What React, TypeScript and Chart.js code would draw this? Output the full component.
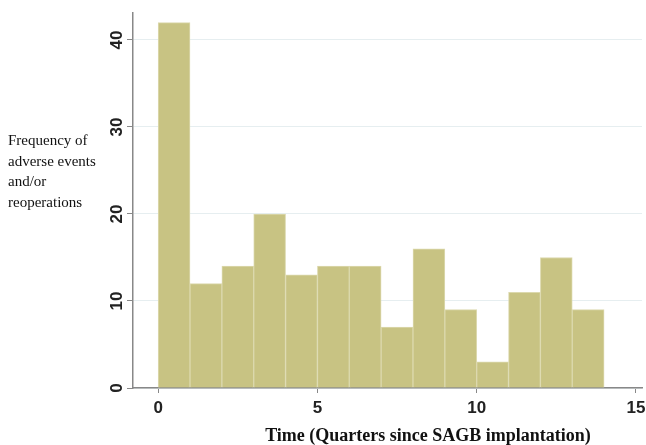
import React, { useEffect, useRef } from "react";
import { Chart, registerables } from "chart.js";

Chart.register(...registerables);

const binStarts = [0, 1, 2, 3, 4, 5, 6, 7, 8, 9, 10, 11, 12, 13];
const frequencies = [42, 12, 14, 20, 13, 14, 14, 7, 16, 9, 3, 11, 15, 9];
const xTicks = [0, 5, 10, 15];
const yTicks = [0, 10, 20, 30, 40];
const yTitleLines = ["Frequency of", "adverse events", "and/or", "reoperations"];
const xTitle = "Time (Quarters since SAGB implantation)";

const textPlugin = {
  id: "customText",
  afterDraw(chart: any) {
    const ctx = chart.ctx;
    const yScale = chart.scales.y;
    ctx.save();
    // rotated y tick labels
    ctx.fillStyle = "#222";
    ctx.font = "bold 17px 'Liberation Sans', Arial, sans-serif";
    ctx.textAlign = "center";
    ctx.textBaseline = "middle";
    yTicks.forEach((v) => {
      const py = yScale.getPixelForValue(v);
      ctx.save();
      ctx.translate(117, py);
      ctx.rotate(-Math.PI / 2);
      ctx.fillText(String(v), 0, 0);
      ctx.restore();
    });
    // y title (horizontal, multi-line)
    ctx.font = "15px 'Liberation Serif', 'Times New Roman', serif";
    ctx.textAlign = "left";
    ctx.textBaseline = "alphabetic";
    ctx.fillStyle = "#111";
    yTitleLines.forEach((line, i) => {
      ctx.fillText(line, 8, 145 + i * 20.5);
    });
    // x title
    ctx.font = "bold 18px 'Liberation Serif', 'Times New Roman', serif";
    ctx.textAlign = "center";
    ctx.textBaseline = "middle";
    ctx.fillText(xTitle, 428, 436);
    ctx.restore();
  },
};

export default function App() {
  const canvasRef = useRef<HTMLCanvasElement | null>(null);

  useEffect(() => {
    if (!canvasRef.current) return;
    const chart = new Chart(canvasRef.current, {
      type: "bar",
      data: {
        datasets: [
          {
            data: binStarts.map((s, i) => ({ x: s + 0.5, y: frequencies[i] })),
            backgroundColor: "#c8c383",
            borderColor: "#dcd9ae",
            borderWidth: 1,
            borderSkipped: "bottom",
            barPercentage: 1,
            categoryPercentage: 1,
          },
        ],
      },
      options: {
        animation: false,
        responsive: true,
        maintainAspectRatio: false,
        layout: { padding: { left: 0, top: 13, right: 4, bottom: 0 } },
        plugins: {
          legend: { display: false },
          tooltip: { enabled: false },
        },
        scales: {
          x: {
            type: "linear",
            offset: false,
            min: -0.79,
            max: 15.19,
            afterBuildTicks: (scale: any) => {
              scale.ticks = xTicks.map((v) => ({ value: v }));
            },
            afterFit: (scale: any) => {
              scale.height = 57;
              scale.paddingLeft = 0;
              scale.paddingRight = 0;
            },
            grid: {
              offset: false,
              drawOnChartArea: false,
              drawTicks: true,
              tickLength: 5,
              tickColor: "#888",
            },
            border: { display: true, color: "#888", width: 1.5 },
            ticks: {
              maxRotation: 0,
              minRotation: 0,
              padding: 5,
              color: "#222",
              font: { family: "'Liberation Sans', Arial, sans-serif", size: 17, weight: "bold" },
            },
          },
          y: {
            type: "linear",
            min: 0,
            max: 43.1,
            afterBuildTicks: (scale: any) => {
              scale.ticks = yTicks.map((v) => ({ value: v }));
            },
            afterFit: (scale: any) => {
              scale.width = 133;
              scale.paddingTop = 0;
              scale.paddingBottom = 0;
            },
            grid: {
              drawOnChartArea: true,
              color: "#e6eef0",
              lineWidth: 1,
              drawTicks: true,
              tickLength: 6,
              tickColor: "#888",
            },
            border: { display: true, color: "#888", width: 1.5 },
            ticks: { display: false },
          },
        },
      },
      plugins: [textPlugin],
    });
    return () => chart.destroy();
  }, []);

  return (
    <div style={{ position: "fixed", left: 0, top: 0, width: 646, height: 445, background: "#fff" }}>
      <canvas ref={canvasRef} />
    </div>
  );
}
